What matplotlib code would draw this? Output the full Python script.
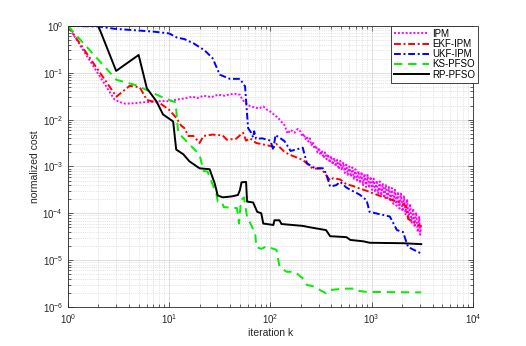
import numpy as np
import matplotlib.pyplot as plt

plt.rcParams['font.family'] = ['Liberation Sans', 'DejaVu Sans']
plt.rcParams['mathtext.default'] = 'regular'

# log10(iteration), log10(normalized cost)
ipm_logk = [0, 0.46, 0.52, 0.57, 0.65, 0.75, 0.85, 0.93, 1.0, 1.08, 1.15, 1.23, 1.28, 1.34,
            1.42, 1.48, 1.55, 1.60, 1.65, 1.70, 1.72, 1.75, 1.79, 1.84, 1.89, 1.93, 1.96, 2.0,
            2.04, 2.08, 2.11, 2.14, 2.17, 2.20, 2.24, 2.27,
            2.300, 2.315, 2.330, 2.345, 2.360, 2.375, 2.390, 2.405, 2.420, 2.435, 2.450, 2.465,
            2.480, 2.495, 2.510, 2.525, 2.540, 2.555, 2.570, 2.585, 2.600, 2.615, 2.630, 2.645,
            2.660, 2.675, 2.690, 2.705, 2.720, 2.735, 2.750, 2.765, 2.780, 2.795, 2.810, 2.825,
            2.840, 2.855, 2.870, 2.885, 2.900, 2.915, 2.930, 2.945, 2.960, 2.975, 2.990, 3.005,
            3.020, 3.035, 3.050, 3.065, 3.080, 3.095, 3.110, 3.125, 3.140, 3.155, 3.170, 3.185,
            3.200, 3.215, 3.230, 3.245, 3.260, 3.275, 3.290, 3.305, 3.320, 3.335, 3.350, 3.365,
            3.380, 3.395, 3.410, 3.425, 3.440, 3.455, 3.470, 3.480, 3.490]
ipm_logc = [0, -1.57, -1.63, -1.66, -1.65, -1.63, -1.62, -1.60, -1.61, -1.57, -1.55, -1.51, -1.54, -1.49,
            -1.52, -1.47, -1.49, -1.46, -1.45, -1.47, -1.56, -1.64, -1.70, -1.74, -1.76, -1.72, -1.78, -1.83,
            -1.90, -1.97, -2.05, -2.12, -2.30, -2.22, -2.28, -2.20,
            -2.26, -2.36, -2.30, -2.42, -2.36, -2.47, -2.40, -2.55, -2.48, -2.62, -2.55, -2.70,
            -2.60, -2.76, -2.66, -2.82, -2.70, -2.85, -2.74, -2.92, -2.78, -2.96, -2.82, -3.00,
            -2.86, -3.06, -2.88, -3.08, -2.92, -3.14, -2.96, -3.18, -3.00, -3.22, -3.02, -3.28,
            -3.06, -3.30, -3.10, -3.36, -3.12, -3.40, -3.16, -3.44, -3.18, -3.46, -3.22, -3.50,
            -3.26, -3.55, -3.30, -3.58, -3.32, -3.62, -3.36, -3.67, -3.40, -3.71, -3.44, -3.75,
            -3.46, -3.80, -3.50, -3.84, -3.54, -3.90, -3.58, -3.96, -3.64, -4.02, -3.70, -4.12,
            -3.80, -4.22, -3.90, -4.30, -3.98, -4.40, -4.08, -4.46, -4.22]

ekf_logk = [0, 0.48, 0.61, 0.71, 0.78, 0.91, 1.00, 1.07, 1.12, 1.15, 1.19, 1.24, 1.30, 1.34, 1.43,
            1.53, 1.57, 1.66, 1.73, 1.76, 1.80, 1.86, 1.91, 2.03, 2.06, 2.14, 2.19, 2.32, 2.42, 2.50,
            2.59, 2.62, 2.69, 2.75, 2.82, 2.88, 2.95, 3.02, 3.11, 3.18, 3.25, 3.31, 3.34, 3.36, 3.42, 3.49]
ekf_logc = [0, -1.51, -1.28, -1.31, -1.58, -1.65, -1.79, -1.96, -2.13, -2.18, -2.35, -2.35, -2.50, -2.35, -2.32,
            -2.34, -2.43, -2.41, -2.28, -2.45, -2.40, -2.50, -2.52, -2.58, -2.52, -2.69, -2.75, -2.86, -3.05, -3.04,
            -3.30, -3.25, -3.28, -3.38, -3.42, -3.47, -3.52, -3.58, -3.65, -3.70, -3.75, -3.80, -3.85, -4.12, -4.20, -4.28]

ukf_logk = [0, 0.30, 0.46, 0.84, 1.0, 1.08, 1.15, 1.24, 1.35, 1.43, 1.50, 1.60, 1.70, 1.75, 1.78,
            1.81, 1.83, 1.84, 1.86, 1.92, 2.00, 2.03, 2.05, 2.10, 2.14, 2.20, 2.32, 2.36, 2.44, 2.52,
            2.55, 2.59, 2.65, 2.69, 2.75, 2.79, 2.88, 2.95, 2.98, 3.10, 3.18, 3.25, 3.31, 3.36, 3.49]
ukf_logc = [0, -0.01, -0.06, -0.12, -0.16, -0.25, -0.28, -0.37, -0.52, -0.69, -1.04, -1.13, -1.13, -1.29, -2.18,
            -2.28, -2.38, -2.25, -2.41, -2.40, -2.45, -2.65, -2.33, -2.40, -2.46, -2.67, -2.60, -2.93, -3.04, -3.04,
            -3.15, -3.43, -3.40, -3.33, -3.45, -3.50, -3.60, -3.72, -3.97, -4.03, -4.07, -4.36, -4.40, -4.72, -4.86]

ks_logk = [0, 0.48, 0.68, 0.91, 1.06, 1.07, 1.09, 1.30, 1.34, 1.38, 1.47, 1.48, 1.52, 1.54, 1.67,
           1.69, 1.71, 1.74, 1.75, 1.77, 1.80, 1.82, 1.85, 1.86, 1.91, 1.96, 2.06, 2.09, 2.16, 2.24,
           2.32, 2.36, 2.42, 2.55, 2.59, 2.72, 2.85, 2.88, 2.95, 3.49]
ks_logc = [0, -1.15, -1.27, -1.50, -1.63, -1.79, -2.28, -2.75, -3.10, -3.11, -3.61, -3.75, -3.76, -3.87, -3.89,
           -4.22, -3.72, -3.66, -3.80, -4.08, -4.20, -4.30, -4.40, -4.72, -4.76, -4.71, -4.78, -5.14, -5.25, -5.25,
           -5.39, -5.53, -5.56, -5.71, -5.64, -5.61, -5.61, -5.66, -5.68, -5.69]

rp_logk = [0, 0.301, 0.477, 0.699, 0.78, 0.875, 0.94, 1.04, 1.07, 1.14, 1.20, 1.30, 1.40, 1.45, 1.48,
           1.53, 1.62, 1.68, 1.70, 1.715, 1.76, 1.77, 1.83, 1.87, 1.91, 1.93, 2.03, 2.04, 2.09, 2.11,
           2.32, 2.39, 2.55, 2.59, 2.75, 2.79, 2.92, 2.98, 3.31, 3.49]
rp_logc = [0, 0, -0.96, -0.62, -1.33, -1.61, -1.89, -2.04, -2.64, -2.74, -2.89, -3.04, -3.06, -3.36, -3.62,
           -3.66, -3.64, -3.61, -3.50, -3.34, -3.33, -3.75, -3.77, -3.97, -4.0, -4.22, -4.25, -4.15, -4.15, -4.23,
           -4.27, -4.30, -4.36, -4.49, -4.51, -4.57, -4.60, -4.63, -4.64, -4.66]

series = [
    ('IPM', ipm_logk, ipm_logc, '#ff00ff', (0, (1.0, 1.0))),
    ('EKF-IPM', ekf_logk, ekf_logc, '#ff0000', (0, (3.5, 1.4, 1.0, 1.4))),
    ('UKF-IPM', ukf_logk, ukf_logc, '#0000ff', (0, (3.5, 1.4, 1.0, 1.4))),
    ('KS-PFSO', ks_logk, ks_logc, '#00ee00', (0, (4.3, 3.0))),
    ('RP-PFSO', rp_logk, rp_logc, '#000000', '-'),
]

fig = plt.figure(figsize=(5.26, 3.46), dpi=100)
ax = fig.add_axes([0.129, 0.113, 0.770, 0.812])

for name, lk, lc, col, ls in series:
    ax.loglog(10 ** np.array(lk), 10 ** np.array(lc), color=col, linestyle=ls, lw=1.4, label=name)

ax.set_xlim(1, 1e4)
ax.set_ylim(1e-6, 1)
ax.set_xlabel('iteration k', fontsize=7.5, color='#262626', labelpad=2)
ax.set_ylabel('normalized cost', fontsize=7.5, color='#262626', labelpad=2)

ax.grid(True, which='major', color='#d9d9d9', lw=0.6, ls='-')
ax.grid(True, which='minor', color='#cccccc', lw=0.5, ls=':')
ax.set_axisbelow(True)
ax.tick_params(which='both', direction='in', top=True, right=True, labelsize=7,
               colors='#262626', width=0.5)
ax.tick_params(which='major', length=3.5)
ax.tick_params(which='minor', length=2)
for s in ax.spines.values():
    s.set_linewidth(0.6)
    s.set_color('#262626')

leg = ax.legend(loc='upper right', bbox_to_anchor=(1.012, 1.0), fontsize=7, handlelength=3.6,
                handletextpad=0.3, borderpad=0.3, labelspacing=0.02, fancybox=False,
                framealpha=1, edgecolor='#262626', borderaxespad=0)
leg.get_frame().set_linewidth(0.6)

fig.savefig('out.png', dpi=100)
